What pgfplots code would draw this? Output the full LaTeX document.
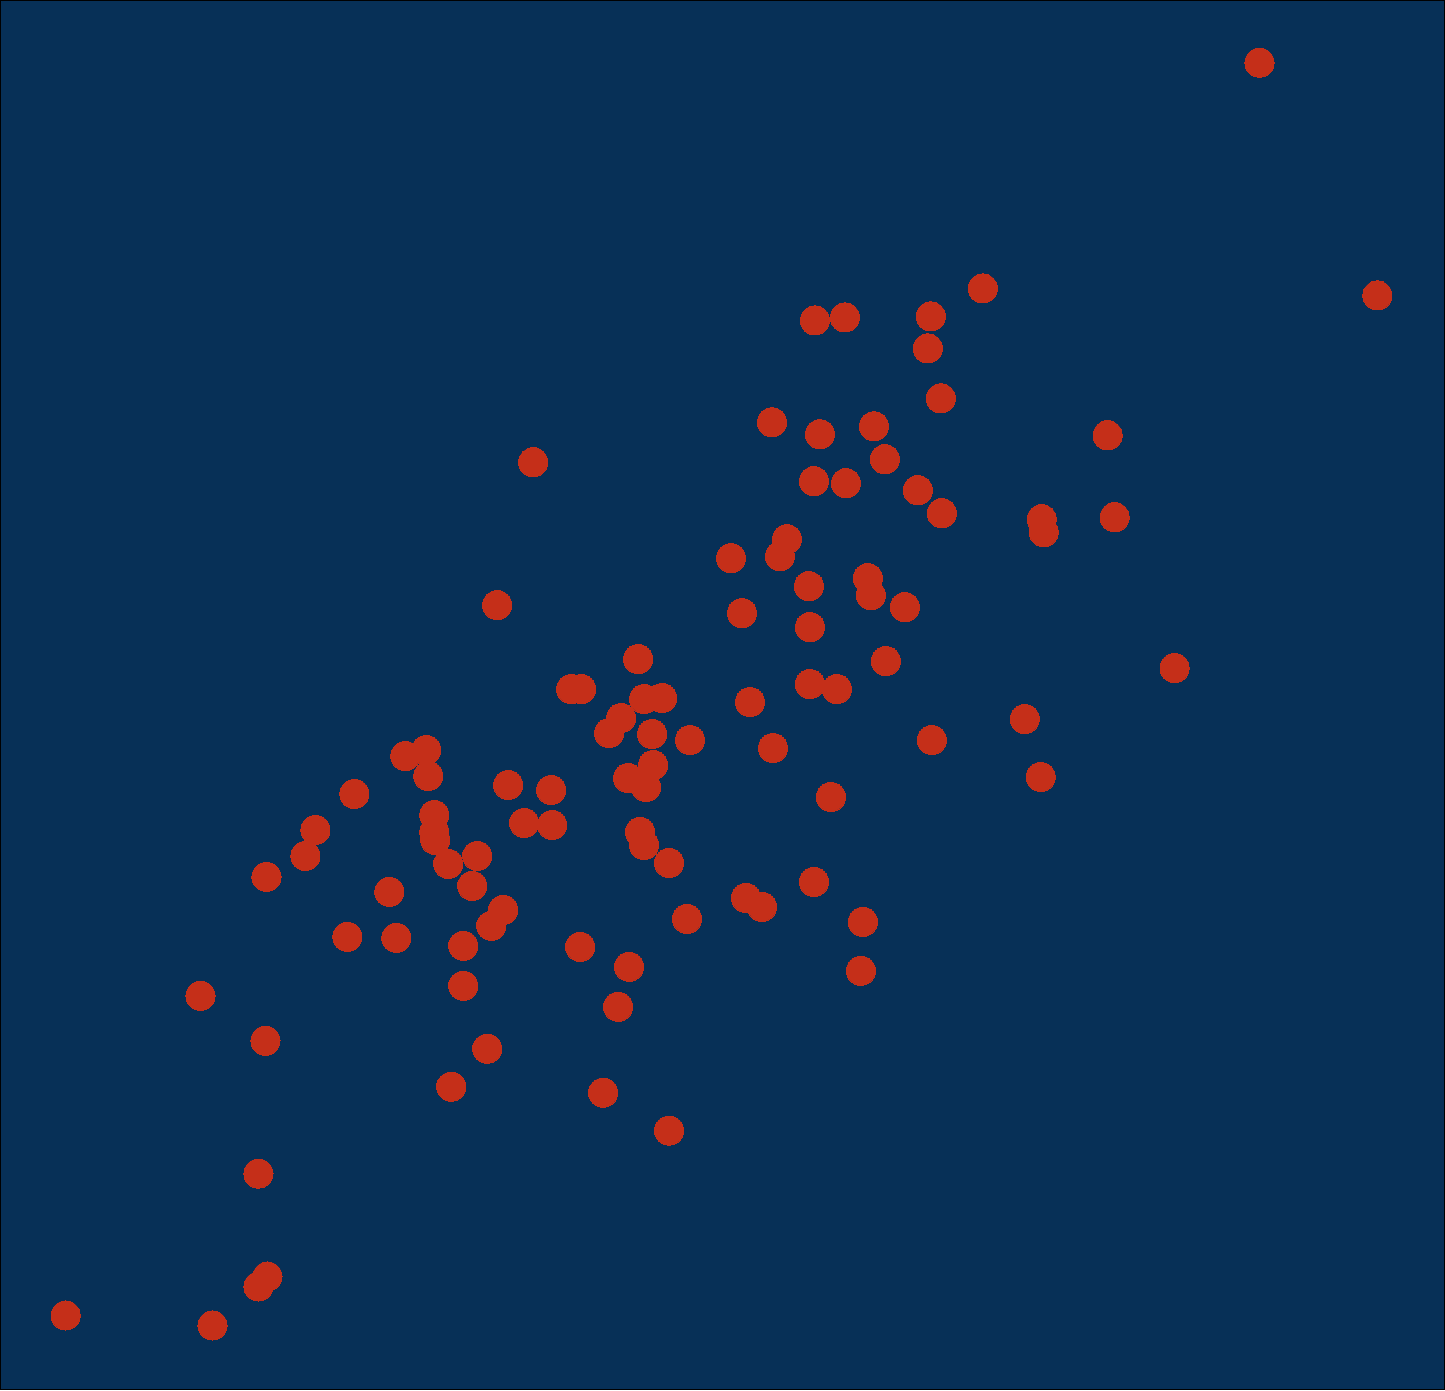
\documentclass[border=0pt]{standalone}
\usepackage{pgfplots}
\pgfplotsset{compat=1.18}
\definecolor{bg}{HTML}{073057}
\definecolor{dot}{HTML}{C52F19}
\begin{document}
\begin{tikzpicture}
\begin{axis}[
  scale only axis,
  width=14.45cm, height=13.9cm,
  xmin=0, xmax=1445, ymin=0, ymax=1390,
  y dir=reverse,
  xtick=\empty, ytick=\empty,
  axis line style={black, line width=0.4pt},
  axis background/.style={fill=bg},
]
\addplot[only marks, mark=*, mark size=4.15pt, mark options={fill=dot, draw=dot, line width=0pt}] coordinates {
(1260,62) (1378,295) (983,288) (815,320) (845,317) (931,316) (928,348) (941,398)
(772,422) (820,434) (874,426) (1108,435) (533,462) (885,459) (814,481) (846,483)
(918,490) (942,513) (1042,519) (1044,532) (1115,517) (787,539) (780,556) (731,558)
(809,586) (868,578) (871,595) (905,607) (742,613) (497,605) (810,627) (638,659)
(886,661) (1175,668) (571,689) (581,689) (644,699) (662,698) (810,684) (837,689)
(750,702) (621,718) (609,733) (652,734) (690,740) (1025,719) (932,740) (773,748)
(426,750) (405,756) (428,776) (653,765) (628,778) (646,787) (508,785) (551,790)
(354,794) (1041,777) (831,797) (434,815) (524,823) (552,825) (315,830) (434,832)
(435,840) (640,832) (644,845) (305,856) (477,856) (448,864) (669,863) (266,877)
(472,886) (389,892) (814,882) (746,898) (762,907) (503,910) (491,926) (687,919)
(863,922) (347,937) (396,938) (463,946) (580,947) (629,967) (861,971) (200,996)
(463,986) (618,1007) (265,1041) (487,1049) (451,1087) (603,1093) (669,1131) (258,1174)
(267,1277) (258,1287) (65,1316) (212,1326)
};
\end{axis}
\end{tikzpicture}
\end{document}
